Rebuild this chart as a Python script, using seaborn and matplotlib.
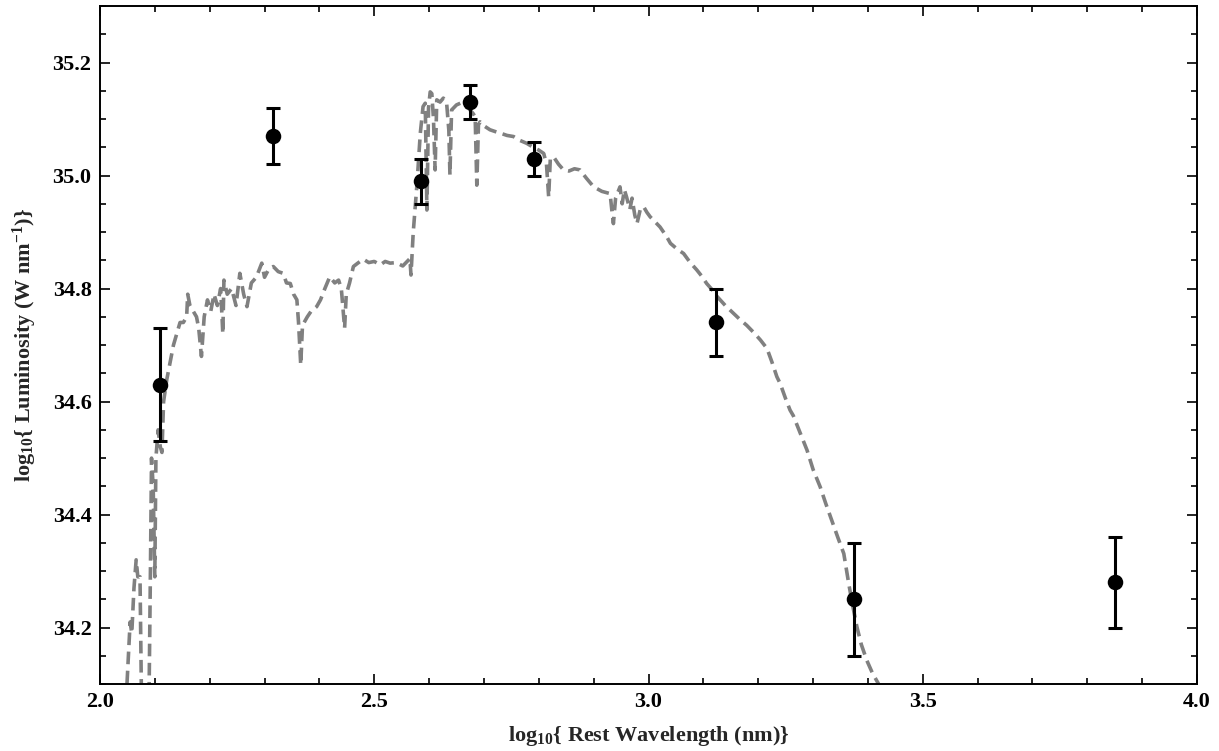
import numpy as np
import pandas as pd
import matplotlib
matplotlib.use("Agg")
import matplotlib.pyplot as plt
import seaborn as sns
from matplotlib.ticker import MultipleLocator, FormatStrFormatter

# model spectrum
spec_x = [2.044, 2.052, 2.055, 2.058, 2.062, 2.066, 2.069, 2.073, 2.076, 2.078,
          2.088, 2.092, 2.094, 2.097, 2.100, 2.102, 2.106, 2.110, 2.113, 2.116,
          2.122, 2.128, 2.134, 2.140, 2.146, 2.152, 2.158, 2.160, 2.164, 2.170,
          2.176, 2.180, 2.185, 2.190, 2.196, 2.202, 2.208, 2.214, 2.220, 2.224,
          2.226, 2.232, 2.240, 2.248, 2.255, 2.262, 2.268, 2.276, 2.285, 2.295,
          2.300, 2.308, 2.316, 2.325, 2.334, 2.340, 2.347, 2.353, 2.359, 2.362,
          2.366, 2.369, 2.371, 2.378, 2.385, 2.395, 2.402, 2.410, 2.419, 2.428,
          2.435, 2.440, 2.446, 2.449, 2.455, 2.462, 2.470, 2.480, 2.490, 2.500,
          2.511, 2.520, 2.529, 2.540, 2.552, 2.560, 2.565, 2.567, 2.569, 2.571,
          2.578, 2.584, 2.589, 2.593, 2.596, 2.599, 2.602, 2.605, 2.608, 2.611,
          2.614, 2.620, 2.626, 2.632, 2.636, 2.638, 2.641, 2.650, 2.657, 2.665,
          2.672, 2.680, 2.684, 2.687, 2.690, 2.693, 2.700, 2.711, 2.720, 2.730,
          2.742, 2.754, 2.766, 2.778, 2.790, 2.800, 2.809, 2.814, 2.818, 2.821,
          2.827, 2.836, 2.845, 2.855, 2.865, 2.875, 2.887, 2.900, 2.915, 2.930,
          2.933, 2.936, 2.940, 2.948, 2.952, 2.956, 2.960, 2.966, 2.970, 2.975,
          2.979, 2.985, 2.991, 2.997, 3.003, 3.015, 3.021, 3.033, 3.040, 3.052,
          3.064, 3.076, 3.088, 3.097, 3.106, 3.116, 3.125, 3.140, 3.155, 3.167,
          3.179, 3.192, 3.204, 3.216, 3.225, 3.234, 3.240, 3.250, 3.258, 3.264,
          3.275, 3.289, 3.300, 3.313, 3.323, 3.334, 3.345, 3.356, 3.365, 3.372,
          3.380, 3.388, 3.398, 3.408, 3.419, 3.430]
spec_y = [34.00, 34.15, 34.21, 34.19, 34.27, 34.32, 34.29, 34.29, 34.05, 33.95,
          33.95, 34.30, 34.50, 34.45, 34.29, 34.50, 34.55, 34.52, 34.51, 34.60,
          34.64, 34.67, 34.70, 34.72, 34.74, 34.74, 34.75, 34.79, 34.77, 34.76,
          34.75, 34.73, 34.68, 34.75, 34.78, 34.76, 34.79, 34.77, 34.80, 34.72,
          34.815, 34.79, 34.80, 34.77, 34.827, 34.79, 34.768, 34.81, 34.82, 34.845,
          34.82, 34.835, 34.839, 34.83, 34.827, 34.81, 34.809, 34.79, 34.78, 34.74,
          34.665, 34.73, 34.738, 34.75, 34.76, 34.768, 34.78, 34.80, 34.821, 34.81,
          34.815, 34.80, 34.73, 34.79, 34.81, 34.839, 34.845, 34.852, 34.846, 34.848,
          34.842, 34.848, 34.845, 34.846, 34.840, 34.848, 34.853, 34.824, 34.862, 34.898,
          34.986, 35.075, 35.122, 35.128, 34.939, 35.12, 35.148, 35.145, 35.10, 35.010,
          35.134, 35.13, 35.137, 35.128, 35.08, 35.001, 35.116, 35.125, 35.128, 35.122,
          35.119, 35.110, 35.104, 34.983, 35.09, 35.095, 35.088, 35.081, 35.078, 35.075,
          35.071, 35.069, 35.062, 35.057, 35.050, 35.045, 35.039, 35.02, 34.962, 35.03,
          35.033, 35.02, 35.010, 35.008, 35.012, 35.010, 34.995, 34.980, 34.972, 34.968,
          34.94, 34.915, 34.96, 34.980, 34.95, 34.975, 34.962, 34.94, 34.96, 34.93,
          34.915, 34.94, 34.945, 34.935, 34.927, 34.915, 34.909, 34.892, 34.880, 34.870,
          34.862, 34.846, 34.833, 34.822, 34.809, 34.798, 34.786, 34.770, 34.756, 34.745,
          34.735, 34.722, 34.709, 34.694, 34.67, 34.644, 34.632, 34.605, 34.585, 34.575,
          34.548, 34.514, 34.48, 34.449, 34.42, 34.390, 34.36, 34.331, 34.278, 34.24,
          34.201, 34.17, 34.142, 34.12, 34.101, 34.07]

# photometric points
pt_x = [2.109, 2.315, 2.585, 2.675, 2.792, 3.123, 3.374, 3.851]
pt_y = [34.63, 35.07, 34.99, 35.13, 35.03, 34.74, 34.25, 34.28]
pt_err = [0.10, 0.05, 0.04, 0.03, 0.03, 0.06, 0.10, 0.08]

sns.set_theme(style="ticks")
plt.rcParams['font.family'] = ['Liberation Serif', 'DejaVu Serif']
plt.rcParams['font.weight'] = 'bold'
plt.rcParams['mathtext.fontset'] = 'custom'
plt.rcParams['mathtext.rm'] = 'Liberation Serif:bold'
plt.rcParams['mathtext.bf'] = 'Liberation Serif:bold'
plt.rcParams['mathtext.it'] = 'Liberation Serif:bold'
plt.rcParams['axes.unicode_minus'] = False

spec = pd.DataFrame({'x': spec_x, 'y': spec_y})
pts = pd.DataFrame({'x': pt_x, 'y': pt_y, 'err': pt_err})

fig, ax = plt.subplots(figsize=(12.19, 7.51), dpi=100)
fig.subplots_adjust(left=0.082, right=0.982, top=0.992, bottom=0.089)

sns.lineplot(data=spec, x='x', y='y', ax=ax, sort=False, estimator=None,
             color='#808080', linewidth=2.6, dashes=False)
ax.lines[-1].set_dashes((3.5, 1.8))

ax.errorbar(pts['x'], pts['y'], yerr=pts['err'], fmt='none', ecolor='black',
            elinewidth=2.2, capsize=5, capthick=2.2, zorder=3)
sns.scatterplot(data=pts, x='x', y='y', ax=ax, color='black', s=125,
                edgecolor='black', linewidth=0, zorder=4)

ax.set_xlim(2.0, 4.0)
ax.set_ylim(34.1, 35.3)
ax.xaxis.set_major_locator(MultipleLocator(0.5))
ax.xaxis.set_minor_locator(MultipleLocator(0.1))
ax.yaxis.set_major_locator(MultipleLocator(0.2))
ax.yaxis.set_minor_locator(MultipleLocator(0.05))
ax.xaxis.set_major_formatter(FormatStrFormatter('%.1f'))
ax.yaxis.set_major_formatter(FormatStrFormatter('%.1f'))

ax.tick_params(which='both', direction='in', top=True, right=True,
               labelsize=16, colors='black', width=1.2, pad=6)
ax.tick_params(which='major', length=7)
ax.tick_params(which='minor', length=4)
for s in ax.spines.values():
    s.set_linewidth(1.4)
    s.set_color('black')

ax.set_xlabel(r'log$_{10}${ Rest Wavelength (nm)}', fontsize=16, fontweight='bold', labelpad=8)
ax.set_ylabel(r'log$_{10}${ Luminosity (W nm$^{-1}$)}', fontsize=16, fontweight='bold', labelpad=10)

fig.savefig('out.png', dpi=100)
